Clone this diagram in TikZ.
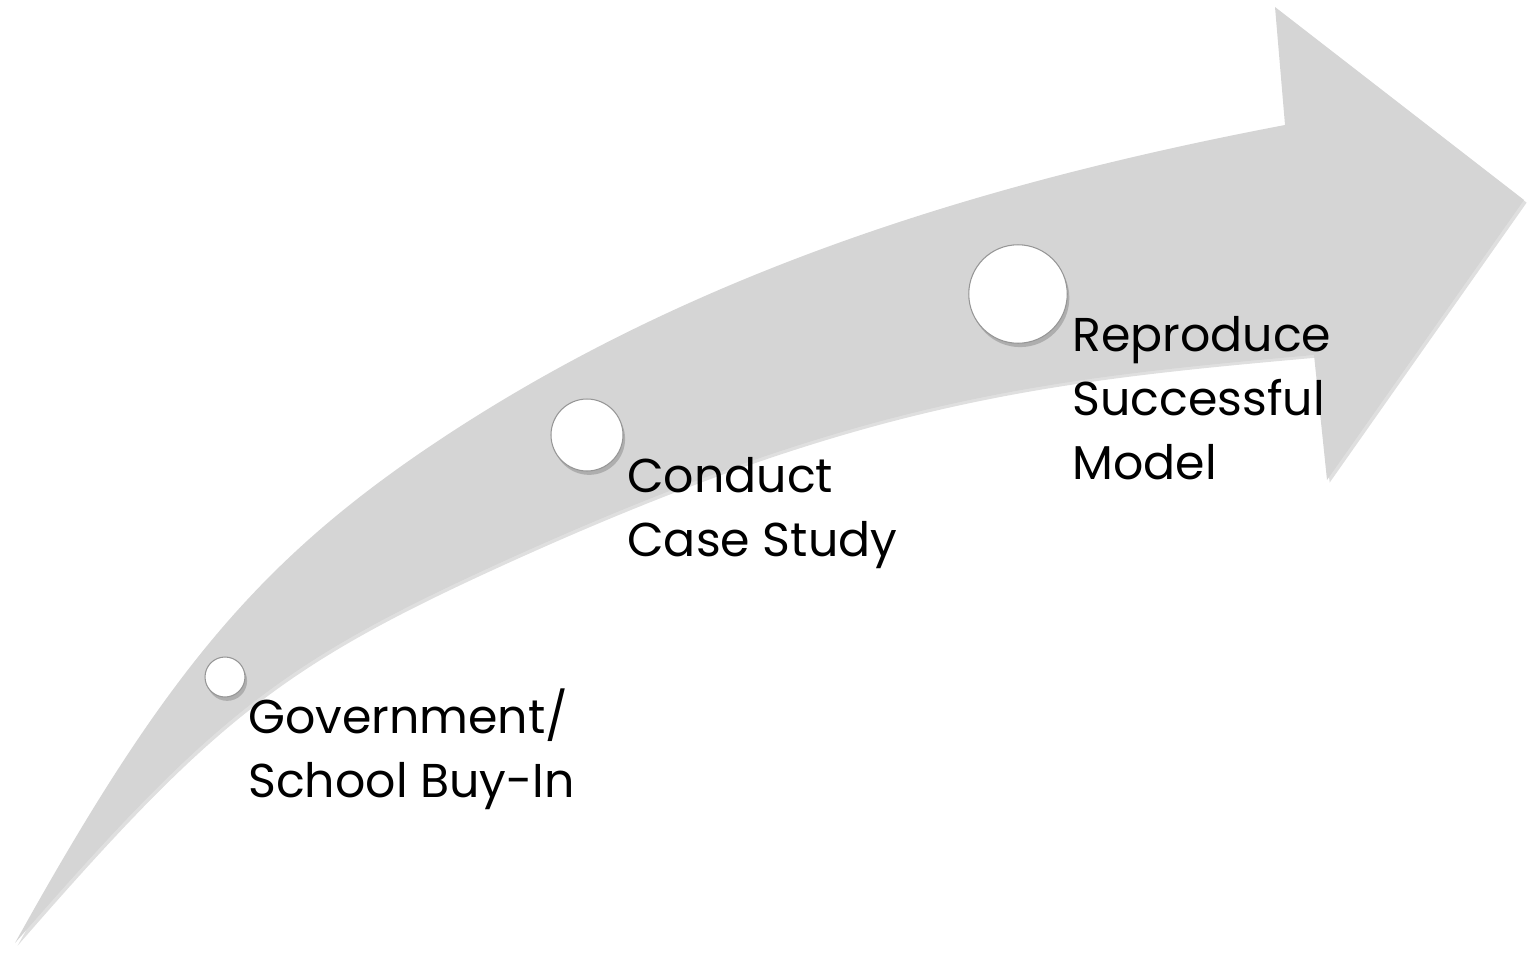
\documentclass[tikz,border=0pt]{standalone}
\usepackage{fontspec}
\setmainfont{Poppins}
\usetikzlibrary{shadows}
\definecolor{arrowgray}{RGB}{213,213,213}
\definecolor{rimgray}{RGB}{150,150,150}
\tikzset{
  stage/.style={circle, draw=rimgray, line width=0.6pt, fill=white, inner sep=0pt,
    drop shadow={opacity=0.45, shadow xshift=1.2pt, shadow yshift=-2.2pt}},
  steplabel/.style={anchor=base west, align=left, inner sep=0pt,
    font=\fontsize{27}{36.4}\selectfont}
}
\begin{document}
\begin{tikzpicture}[x=0.02cm, y=-0.02cm]
  \useasboundingbox (0,0) rectangle (1528,954);
  % curved arrow
  \fill[arrowgray, drop shadow={opacity=0.25, shadow xshift=1.5pt, shadow yshift=-1.5pt}]
    (15,943) .. controls (165,673) and (260,557) .. (450,433)
    .. controls (700,270) and (985,182) .. (1285,125)
    -- (1275,7) -- (1524,200) -- (1327,480) -- (1314,355)
    .. controls (1043,379) and (863,399) .. (513,557)
    .. controls (283,661) and (215,713) .. (15,943) -- cycle;

  \node (c1) at (225,677) [stage, minimum size=0.8cm] {};
  \node (c2) at (587,435) [stage, minimum size=1.44cm] {};
  \node (c3) at (1018,294) [stage, minimum size=1.97cm] {};

  % base anchor sits on the last line
  \node (t1) at (248,797) [steplabel] {Government/\\School Buy-In};
  \node (t2) at (627,556) [steplabel] {Conduct\\Case Study};
  \node (t3) at (1072,479) [steplabel] {Reproduce\\Successful\\Model};
\end{tikzpicture}
\end{document}
